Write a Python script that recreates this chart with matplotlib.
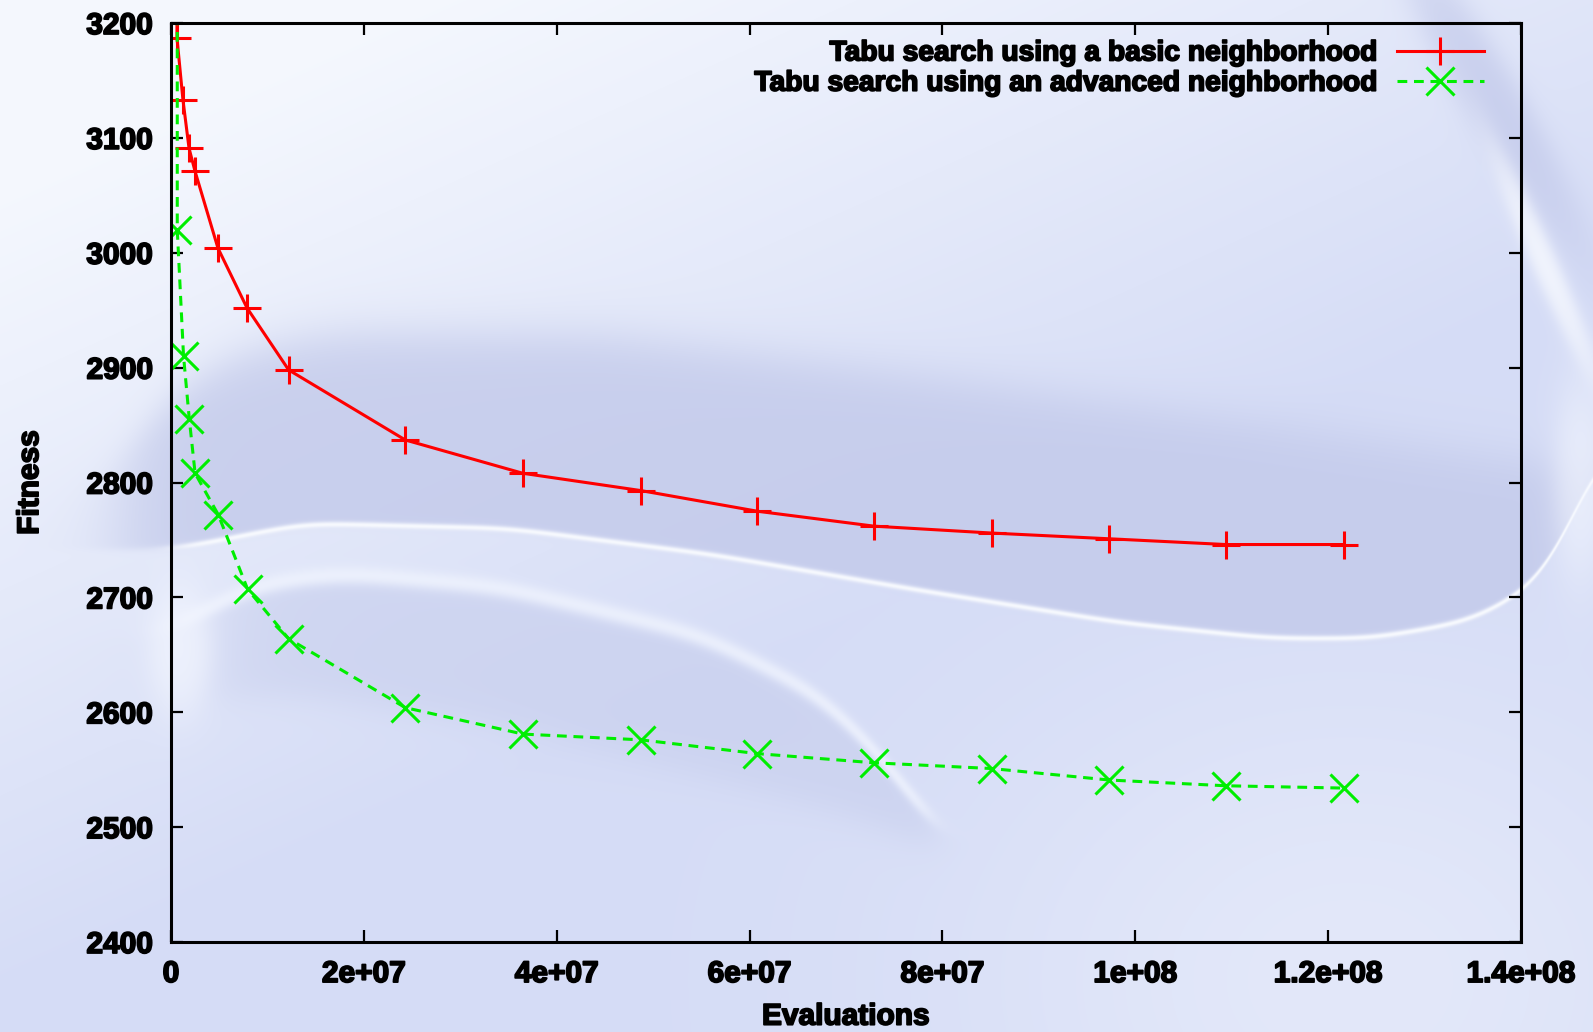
import numpy as np
import matplotlib
matplotlib.use('Agg')
import matplotlib.pyplot as plt
import matplotlib.patheffects as pe

# data (x in evaluations, y = fitness)
basic_x = [0.062e7, 0.062e7, 0.124e7, 0.187e7, 0.249e7, 0.487e7, 0.788e7, 1.22e7, 2.43e7,
           3.65e7, 4.87e7, 6.08e7, 7.29e7, 8.51e7, 9.73e7, 10.94e7, 12.16e7]
basic_y = [3300, 3187, 3133, 3091, 3071, 3004, 2952, 2898, 2837,
           2808, 2793, 2775, 2762, 2756, 2751, 2746, 2746]

adv_x = [0.065e7, 0.065e7, 0.13e7, 0.19e7, 0.25e7, 0.49e7, 0.795e7, 1.22e7, 2.43e7,
         3.65e7, 4.87e7, 6.08e7, 7.29e7, 8.51e7, 9.73e7, 10.94e7, 12.16e7]
adv_y = [3300, 3020, 2910, 2855, 2808, 2772, 2707, 2664, 2604,
         2581, 2576, 2564, 2556, 2551, 2541, 2536, 2534]

labels = ['Tabu search using a basic neighborhood',
          'Tabu search using an advanced neighborhood']

xticks = [0, 2e7, 4e7, 6e7, 8e7, 1e8, 1.2e8, 1.4e8]
xtick_labels = ['0', '2e+07', '4e+07', '6e+07', '8e+07', '1e+08', '1.2e+08', '1.4e+08']
yticks = [2400, 2500, 2600, 2700, 2800, 2900, 3000, 3100, 3200]

# ---- background picture (soft bluish swirl) ----
H, W = 1032, 1593
yy, xx = np.mgrid[0:H, 0:W].astype(float)

def sig(v):
    return 1 / (1 + np.exp(-np.clip(v, -50, 50)))

def blend(img, col, a):
    c = np.array(col) / 255.0
    return img * (1 - a[..., None]) + c * a[..., None]

def curve(kx, ky, width=35):
    c = np.interp(np.arange(W), kx, ky)
    n = 3 * width
    k = np.exp(-0.5 * (np.arange(-n, n + 1) / width) ** 2)
    k /= k.sum()
    return np.convolve(np.pad(c, n, mode='edge'), k, mode='valid')[None, :]

def ellipse(cx, cy, a, b, deg):
    ang = np.deg2rad(deg)
    u = (xx - cx) * np.cos(ang) + (yy - cy) * np.sin(ang)
    v = -(xx - cx) * np.sin(ang) + (yy - cy) * np.cos(ang)
    return np.sqrt((u / a) ** 2 + (v / b) ** 2)

light = np.array((245, 248, 254)) / 255.0
mid = np.array((213, 220, 246)) / 255.0
t = np.clip((0.45 * xx + yy - 180) / 820, 0, 1)
img = light * (1 - t[..., None]) + mid * t[..., None]

# lighter lower right corner
a = np.exp(-(((xx - 1350) / 420) ** 2 + ((yy - 980) / 330) ** 2)) * 0.6
img = blend(img, (236, 240, 252), a)

# dark band with a white arc along its lower edge
top = curve([95, 150, 230, 330, 600, 900, 1200, 1450, 1593],
            [500, 410, 355, 333, 335, 372, 415, 450, 470])
arc = curve([173, 305, 508, 711, 914, 1118, 1270, 1372, 1473, 1544, 1580, 1593],
            [549, 523, 528, 554, 589, 622, 638, 638, 620, 579, 508, 440], width=25)
band = sig((yy - top) / 14) * sig((arc - yy) / 2) * sig((xx - 120) / 22)
img = blend(img, (194, 201, 234), band * 0.8)
wline = np.exp(-((yy - arc) / 3.0) ** 2) * sig((xx - 175) / 10) * 0.9
img = blend(img, (250, 252, 255), wline)

# lower swirl tail
t2 = curve([160, 250, 340, 500, 700, 820, 900, 935],
           [640, 590, 578, 592, 640, 700, 780, 845], width=30)
b2 = curve([160, 300, 500, 700, 850, 935],
           [700, 695, 725, 775, 815, 848], width=30)
tail = sig((yy - t2) / 4) * sig((b2 - yy) / 10) * sig((xx - 210) / 30) * sig((935 - xx) / 10)
img = blend(img, (201, 208, 238), tail * 0.7)
hl = np.exp(-((yy - t2 + 6) / 9) ** 2) * sig((xx - 175) / 10) * sig((930 - xx) / 8)
img = blend(img, (240, 244, 254), hl * 0.75)
curl = sig((1 - ellipse(180, 650, 30, 60, 0)) / 0.25)
img = blend(img, (244, 247, 255), curl * 0.7)

# top right streaks
img = blend(img, (192, 199, 233), sig((1 - ellipse(1495, 105, 160, 28, 60)) / 0.25) * 0.7)
img = blend(img, (250, 252, 255), sig((1 - ellipse(1545, 265, 110, 12, 66)) / 0.3) * 0.75)
img = blend(img, (246, 249, 255), sig((1 - ellipse(1580, 480, 25, 90, 0)) / 0.3) * 0.6)
img = np.clip(img, 0, 1)

# ---- figure ----
plt.rcParams['font.family'] = ['Liberation Sans', 'DejaVu Sans']
plt.rcParams['font.weight'] = 'bold'
stroke = [pe.withStroke(linewidth=1.3, foreground='black')]

fig = plt.figure(figsize=(15.93, 10.32), dpi=100)
bg = fig.add_axes([0, 0, 1, 1], zorder=-5)
bg.imshow(img, extent=[0, W, H, 0], aspect='auto', interpolation='bilinear')
bg.axis('off')

ax = fig.add_axes([171 / W, 1 - 942 / H, 1350 / W, 919 / H])
ax.set_facecolor('none')

ax.plot(basic_x, basic_y, color='#ff0000', lw=2.2, marker='+', ms=20, mew=2.2,
        label=labels[0])
ax.plot(adv_x, adv_y, color='#00ee00', lw=2.2, ls=(0, (3.2, 2.2)), marker='x', ms=20,
        mew=2.2, label=labels[1])

ax.set_xlim(0, 1.4e8)
ax.set_ylim(2400, 3200)
ax.set_xticks(xticks)
ax.set_xticklabels(xtick_labels)
ax.set_yticks(yticks)
ax.tick_params(direction='in', length=8.5, width=1.6, top=True, right=True,
               labelsize=21.5, pad=13)
for lab in ax.get_xticklabels() + ax.get_yticklabels():
    lab.set_fontweight('bold')
    lab.set_path_effects(stroke)
for s in ax.spines.values():
    s.set_linewidth(2.2)

xl = ax.set_xlabel('Evaluations', fontsize=21.5, fontweight='bold')
yl = ax.set_ylabel('Fitness', fontsize=21.5, fontweight='bold')
ax.xaxis.set_label_coords(0.5, -0.066)
ax.yaxis.set_label_coords(-0.094, 0.5)
xl.set_path_effects(stroke)
yl.set_path_effects(stroke)

leg = ax.legend(loc='upper right', bbox_to_anchor=(0.9726, 0.981), frameon=False,
                markerfirst=False, fontsize=20.3, handlelength=3.1, handletextpad=0.65,
                labelspacing=0.15, borderaxespad=0, borderpad=0)
for txt in leg.get_texts():
    txt.set_fontweight('bold')
    txt.set_path_effects(stroke)

fig.savefig('out.png', dpi=100)
